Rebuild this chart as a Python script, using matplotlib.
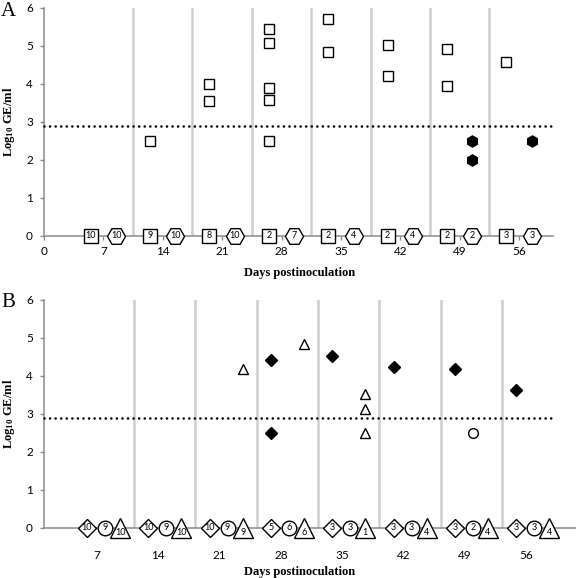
import matplotlib
matplotlib.use('Agg')
import matplotlib.pyplot as plt

# ---------------- data ----------------
days = [7, 14, 21, 28, 35, 42, 49, 56]
limit = 2.9

# Panel A
a_sq_days = [14, 21, 21, 28, 28, 28, 28, 28, 35, 35, 42, 42, 49, 49, 56]
a_sq_vals = [2.5, 4.0, 3.55, 5.46, 5.08, 3.9, 3.58, 2.5, 5.7, 4.85, 5.03, 4.21, 4.92, 3.96, 4.57]
a_hex_days = [49, 49, 56]
a_hex_vals = [2.5, 2.0, 2.5]
a_sq_n = [10, 9, 8, 2, 2, 2, 2, 3]
a_hex_n = [10, 10, 10, 7, 4, 4, 2, 3]

# Panel B
b_dia_days = [28, 28, 35, 42, 49, 56]
b_dia_vals = [4.43, 2.5, 4.53, 4.23, 4.18, 3.63]
b_tri_days = [21, 28, 35, 35, 35]
b_tri_vals = [4.18, 4.83, 3.52, 3.12, 2.49]
b_cir_days = [49]
b_cir_vals = [2.5]
b_dia_n = [10, 10, 10, 5, 3, 3, 3, 3]
b_cir_n = [9, 9, 9, 6, 3, 3, 2, 3]
b_tri_n = [10, 10, 9, 6, 1, 4, 4, 4]

# ---------------- style ----------------
plt.rcParams['mathtext.fontset'] = 'custom'
plt.rcParams['mathtext.rm'] = 'Liberation Serif:bold'
plt.rcParams['mathtext.it'] = 'Liberation Serif:bold'
plt.rcParams['mathtext.bf'] = 'Liberation Serif:bold'

TICKFONT = 'Lato'
SERIF = 'Liberation Serif'
SPINE = '#8a8a8a'
VLINE = '#cfcfcf'
W, H = 576, 578

fig = plt.figure(figsize=(W / 100, H / 100), dpi=100)

axA = fig.add_axes([44 / W, 1 - 236 / H, 509 / W, 228 / H])
axB = fig.add_axes([44 / W, 1 - 528 / H, 532 / W, 228 / H])


def common(ax, width_px):
    ax.set_ylim(0, 6)
    ax.set_yticks(range(0, 7))
    for s in ['top', 'right']:
        ax.spines[s].set_visible(False)
    for s in ['left', 'bottom']:
        ax.spines[s].set_color(SPINE)
        ax.spines[s].set_linewidth(1.1)
    ax.tick_params(axis='y', direction='out', length=3, width=1, color=SPINE,
                   pad=5, labelsize=8.5)
    for lab in ax.get_yticklabels():
        lab.set_fontfamily(TICKFONT)
    ax.set_ylabel(r'Log$_{10}$ GE/ml', fontfamily=SERIF, fontweight='bold', fontsize=9)
    ax.yaxis.set_label_coords(-(44 - 17) / width_px, 0.5)


def dotted(ax, x0, x1):
    ax.plot([x0, x1], [limit, limit], color='black', lw=1.9,
            dashes=[0.01, 2.1], dash_capstyle='round', zorder=3, clip_on=False)


# ---------------- Panel A ----------------
axA.set_xlim(0, 60)
common(axA, 509)
axA.set_xticks([0] + days)
axA.tick_params(axis='x', direction='out', length=3, width=1, color=SPINE,
                pad=4.5, labelsize=8.5)
for lab in axA.get_xticklabels():
    lab.set_fontfamily(TICKFONT)
for d in days[:-1]:
    axA.plot([d + 3.5, d + 3.5], [0, 6], color=VLINE, lw=1.8, zorder=1)
dotted(axA, 0, 59.9)

axA.plot([d - 1.5 for d in a_sq_days], a_sq_vals, ls='none', marker='s', ms=7,
         mfc='white', mec='black', mew=1.0, zorder=4)
axA.plot([d + 1.5 for d in a_hex_days], a_hex_vals, ls='none', marker='h', ms=8,
         mfc='black', mec='black', zorder=4)
for d, n1, n2 in zip(days, a_sq_n, a_hex_n):
    axA.plot(d - 1.5, 0, marker='s', ms=10.5, mfc='white', mec='black', mew=1.0,
             zorder=5, clip_on=False)
    axA.text(d - 1.5, 0, str(n1), ha='center', va='center', fontsize=6.5,
             fontfamily=TICKFONT, zorder=6)
    axA.plot(d + 1.5, 0, marker='H', ms=13, mfc='white', mec='black', mew=1.0,
             zorder=5, clip_on=False)
    axA.text(d + 1.5, 0, str(n2), ha='center', va='center', fontsize=6.5,
             fontfamily=TICKFONT, zorder=6)

axA.set_xlabel('Days postinoculation', fontfamily=SERIF, fontweight='bold', fontsize=9)
axA.xaxis.set_label_coords(0.503, -0.135)

# ---------------- Panel B ----------------
x0B = 0.95
axB.set_xlim(x0B, x0B + 532 / 8.76)
common(axB, 532)
axB.set_xticks(days)
axB.tick_params(axis='x', length=0, pad=16, labelsize=8.5)
for lab in axB.get_xticklabels():
    lab.set_fontfamily(TICKFONT)
for d in days[:-1]:
    axB.plot([d + 4.22, d + 4.22], [0, 6], color=VLINE, lw=1.8, zorder=1)
dotted(axB, x0B, x0B + 509 / 8.76)

oD, oC, oT = -1.14, 0.91, 2.63
axB.plot([d + oD for d in b_dia_days], b_dia_vals, ls='none', marker='D', ms=6,
         mfc='black', mec='black', zorder=4)
axB.plot([d + oT for d in b_tri_days], b_tri_vals, ls='none', marker='^', ms=7.5,
         mfc='white', mec='black', mew=1.0, zorder=4)
axB.plot([d + oC for d in b_cir_days], b_cir_vals, ls='none', marker='o', ms=7,
         mfc='white', mec='black', mew=1.0, zorder=4)
for d, n1, n2, n3 in zip(days, b_dia_n, b_cir_n, b_tri_n):
    axB.plot(d + oD, 0, marker='D', ms=9.5, mfc='white', mec='black', mew=1.0,
             zorder=5, clip_on=False)
    axB.text(d + oD, 0, str(n1), ha='center', va='center', fontsize=6.5,
             fontfamily=TICKFONT, zorder=6)
    axB.plot(d + oC, 0, marker='o', ms=10.5, mfc='white', mec='black', mew=1.0,
             zorder=5, clip_on=False)
    axB.text(d + oC, 0, str(n2), ha='center', va='center', fontsize=6.5,
             fontfamily=TICKFONT, zorder=6)
    axB.plot(d + oT, 0, marker='^', ms=14, mfc='white', mec='black', mew=1.0,
             zorder=5, clip_on=False)
    axB.text(d + oT, -0.13, str(n3), ha='center', va='center', fontsize=6.5,
             fontfamily=TICKFONT, zorder=6)

axB.set_xlabel('Days postinoculation', fontfamily=SERIF, fontweight='bold', fontsize=9)
axB.xaxis.set_label_coords(0.481, -0.165)

# panel letters
fig.text(1 / W, 1 - 16 / H, 'A', fontfamily=SERIF, fontsize=15, va='baseline')
fig.text(1 / W, 1 - 307 / H, 'B', fontfamily=SERIF, fontsize=15, va='baseline')

fig.savefig('out.png', dpi=100)
